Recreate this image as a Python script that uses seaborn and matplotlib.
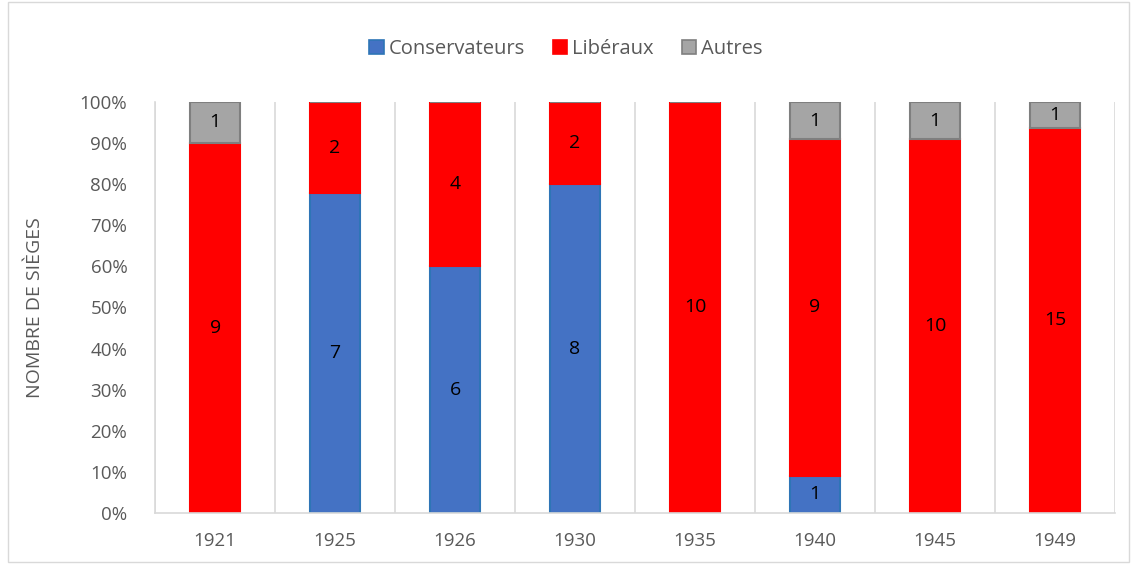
import matplotlib
matplotlib.use("Agg")
import matplotlib.pyplot as plt
from matplotlib.patches import Rectangle, Patch
from matplotlib.ticker import PercentFormatter, FixedLocator
import numpy as np
import pandas as pd
import seaborn as sns

years = ["1921", "1925", "1926", "1930", "1935", "1940", "1945", "1949"]
conservateurs = [0, 7, 6, 8, 0, 1, 0, 0]
liberaux = [9, 2, 4, 2, 10, 9, 10, 15]
autres = [1, 0, 0, 0, 0, 1, 1, 1]

series = [
    ("Conservateurs", conservateurs, "#4472C4", "#2E75B6"),
    ("Libéraux", liberaux, "#FF0000", "#FF0000"),
    ("Autres", autres, "#A5A5A5", "#7F7F7F"),
]

sns.set_theme(style="white")
plt.rcParams["font.family"] = ["Open Sans", "DejaVu Sans"]

df = pd.DataFrame({"year": years, "c": conservateurs, "l": liberaux, "a": autres})
total = df[["c", "l", "a"]].sum(axis=1).to_numpy(dtype=float)

fig = plt.figure(figsize=(11.32, 5.64), dpi=100)
ax = fig.add_axes([0.137, 0.0904, 0.848, 0.729])

bottom = np.zeros(len(years))
for name, vals, color, edge in series:
    pct = np.array(vals, dtype=float) / total * 100
    sns.barplot(x=years, y=pct, bottom=bottom, color=color, edgecolor=edge,
                linewidth=1.5, width=0.42, saturation=1, ax=ax)
    for i, (v, p) in enumerate(zip(vals, pct)):
        if v > 0:
            ax.text(i, bottom[i] + p / 2, str(v), ha="center", va="center",
                    fontsize=14, color="black")
    bottom += pct

ax.set_ylim(0, 100)
ax.set_xlim(-0.5, len(years) - 0.5)
ax.yaxis.set_major_locator(FixedLocator(np.arange(0, 101, 10)))
ax.yaxis.set_major_formatter(PercentFormatter(decimals=0))
ax.tick_params(axis="y", labelsize=13.5, colors="#595959", length=0, pad=20)
ax.tick_params(axis="x", labelsize=13.5, colors="#595959", length=0, pad=14)
ax.set_xlabel("")
ax.set_ylabel("NOMBRE DE SIÈGES", fontsize=14, color="#595959", labelpad=26)

# vertical separators between categories
ax.xaxis.set_minor_locator(FixedLocator(np.arange(-0.5, len(years), 1)))
ax.grid(which="minor", axis="x", color="#D9D9D9", linewidth=1.2)
ax.grid(which="major", axis="both", visible=False)
ax.set_axisbelow(True)
for s in ["top", "right"]:
    ax.spines[s].set_visible(False)
ax.spines["left"].set_color("#D9D9D9")
ax.spines["bottom"].set_color("#D9D9D9")
ax.spines["left"].set_linewidth(1.2)
ax.spines["bottom"].set_linewidth(1.2)

handles = [Patch(facecolor=c, edgecolor=e, linewidth=1.2, label=n) for n, _, c, e in series]
fig.legend(handles=handles, loc="center", bbox_to_anchor=(0.5, 0.913), ncol=3,
           frameon=False, fontsize=14.5, handlelength=0.7, handleheight=0.7,
           handletextpad=0.25, columnspacing=1.4, labelcolor="#595959")

fig.patches.append(Rectangle((0.007, 0.003), 0.99, 0.994, transform=fig.transFigure,
                             fill=False, edgecolor="#D9D9D9", linewidth=1))

fig.savefig("out.png", dpi=100)
